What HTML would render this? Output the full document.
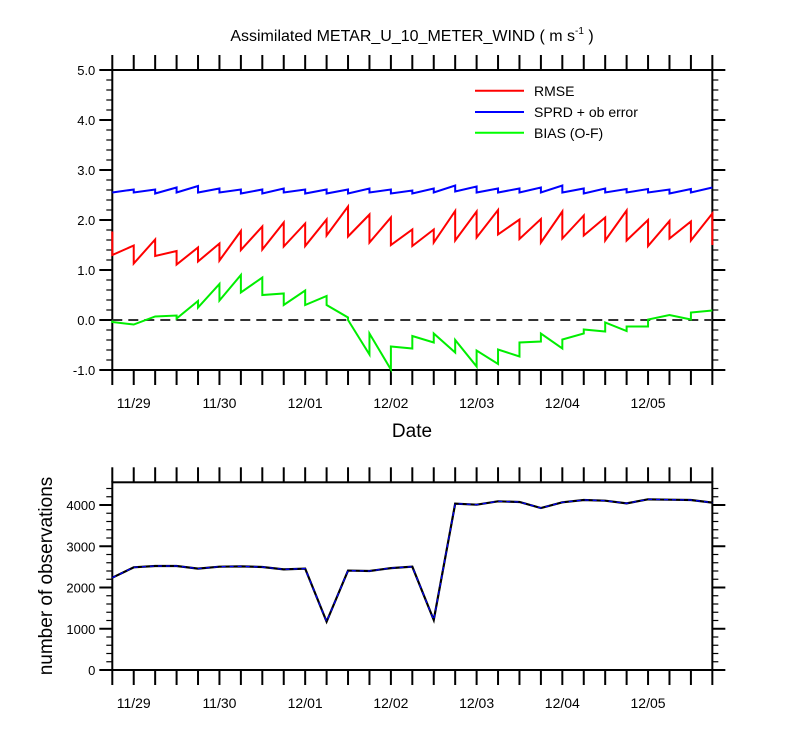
<!DOCTYPE html>
<html><head><meta charset="utf-8"><style>
html,body{margin:0;padding:0;background:#fff;}
svg{display:block;font-family:"Liberation Sans",Arial,sans-serif;}
</style></head><body>
<svg id="chart" width="800" height="750" viewBox="0 0 800 750" xmlns="http://www.w3.org/2000/svg">
<text x="412" y="41" font-size="16" text-anchor="middle">Assimilated METAR_U_10_METER_WIND ( m s<tspan font-size="10" dy="-7">-1</tspan><tspan dy="7"> )</tspan></text>
<g id="topPanel"></g>
<g id="botPanel"></g>
<text x="412" y="437" font-size="19" text-anchor="middle">Date</text>
<text transform="translate(52,576) rotate(-90)" font-size="19" text-anchor="middle">number of observations</text>
<g>
<line x1="475" y1="90.7" x2="524" y2="90.7" stroke="#ff0000" stroke-width="2"/>
<text x="534" y="96" font-size="14">RMSE</text>
<line x1="475" y1="112" x2="524" y2="112" stroke="#0000ff" stroke-width="2"/>
<text x="534" y="117" font-size="14">SPRD + ob error</text>
<line x1="475" y1="132.7" x2="524" y2="132.7" stroke="#00ff00" stroke-width="2"/>
<text x="534" y="138" font-size="14">BIAS (O-F)</text>
</g>
</svg>
<script>
const dateLabels = ["11/29","11/30","12/01","12/02","12/03","12/04","12/05"];
const dateLabelIndex = [1,5,9,13,17,21,25];
const rmsePrior = [1.77,1.49,1.61,1.38,1.45,1.53,1.78,1.87,1.95,1.93,2.01,2.27,2.11,2.05,1.81,1.81,2.18,2.17,2.20,2.01,2.02,2.17,2.09,2.05,2.19,2.00,1.98,1.97,2.13];
const rmsePost  = [1.30,1.13,1.28,1.11,1.17,1.19,1.40,1.41,1.47,1.48,1.69,1.67,1.55,1.50,1.48,1.55,1.59,1.65,1.71,1.62,1.55,1.63,1.69,1.59,1.59,1.48,1.63,1.59,1.50];
const sprdPrior = [2.55,2.61,2.61,2.65,2.68,2.63,2.61,2.61,2.63,2.61,2.61,2.61,2.63,2.61,2.59,2.63,2.69,2.67,2.63,2.63,2.65,2.69,2.63,2.63,2.62,2.62,2.61,2.62,2.65];
const sprdPost  = [2.55,2.55,2.53,2.55,2.55,2.55,2.53,2.53,2.55,2.53,2.53,2.53,2.55,2.53,2.53,2.55,2.57,2.55,2.55,2.55,2.55,2.55,2.53,2.55,2.55,2.55,2.53,2.55,2.65];
const biasPrior = [-0.01,-0.09,0.07,0.09,0.38,0.72,0.90,0.85,0.53,0.59,0.48,0.05,-0.69,-0.99,-0.57,-0.45,-0.65,-0.93,-0.88,-0.73,-0.43,-0.57,-0.27,-0.23,-0.22,-0.13,0.10,0.01,0.19];
const biasPost  = [-0.04,-0.09,0.07,0.03,0.25,0.39,0.55,0.50,0.30,0.30,0.30,0.00,-0.27,-0.53,-0.32,-0.27,-0.40,-0.61,-0.59,-0.45,-0.27,-0.39,-0.19,-0.05,-0.13,0.01,0.10,0.15,0.19];
const obsCount  = [2238,2489,2521,2521,2457,2505,2513,2497,2440,2457,1172,2410,2400,2470,2505,1212,4032,4008,4089,4073,3927,4065,4121,4105,4040,4137,4129,4121,4057];
const topTicks = [5.0,4.0,3.0,2.0,1.0,0.0,-1.0];
const botTicks = [0,1000,2000,3000,4000];

const NS="http://www.w3.org/2000/svg";
const X0=112.3, DX=21.43, N=29;
const xs=i=>X0+i*DX;
const yTop=v=>320-v*50;
const yBot=v=>670-v*0.04125;
function mk(parent,tag,attrs){const e=document.createElementNS(NS,tag);for(const k in attrs)e.setAttribute(k,attrs[k]);parent.appendChild(e);return e;}
const topG=document.getElementById('topPanel'), botG=document.getElementById('botPanel');

function panel(g,yt,yb,ticks,fmt,minorStep,minorMin,minorMax,yf,pfx){
  const r=mk(g,'rect',{x:X0,y:yt,width:xs(N-1)-X0,height:yb-yt,fill:'none',stroke:'#000','stroke-width':2});
  
  
  for(let i=0;i<N;i++){
    const a=mk(g,'line',{x1:xs(i),x2:xs(i),y1:yt-15,y2:yt,stroke:'#000','stroke-width':2});
    
    
    const b=mk(g,'line',{x1:xs(i),x2:xs(i),y1:yb,y2:yb+15,stroke:'#000','stroke-width':2});
    
    
  }
  for(let k=0;k<dateLabels.length;k++){
    const t=mk(g,'text',{x:xs(dateLabelIndex[k]),y:yb+38,'font-size':14,'text-anchor':'middle'});
    t.textContent=dateLabels[k];
    
    
  }
  for(let v=minorMin;v<=minorMax+1e-6;v+=minorStep){
    const y=yf(v);
    for(const side of [[X0-6,X0],[xs(N-1),xs(N-1)+6]]){
      const m=mk(g,'line',{x1:side[0],x2:side[1],y1:y,y2:y,stroke:'#000','stroke-width':1.2});
      
      
    }
  }
  for(const v of ticks){
    const y=yf(v);
    for(const side of [[X0-13,X0],[xs(N-1),xs(N-1)+13]]){
      const m=mk(g,'line',{x1:side[0],x2:side[1],y1:y,y2:y,stroke:'#000','stroke-width':2});
      
      
    }
    const t=mk(g,'text',{x:X0-17,y:y+5,'font-size':13,'text-anchor':'end'});
    t.textContent=fmt(v);
    
    
  }
}
panel(topG,70,370,topTicks,v=>v.toFixed(1),0.2,-1,5,yTop,'top');
panel(botG,482.3,670,botTicks,v=>String(v),200,0,4400,yBot,'bottom');

const zl=mk(topG,'line',{x1:X0,x2:xs(N-1),y1:yTop(0),y2:yTop(0),stroke:'#333','stroke-width':2,'stroke-dasharray':'10,6'});



function saw(pr,po){let d='';for(let i=0;i<N;i++){d+=(i?'L':'M')+xs(i)+','+yTop(pr[i])+'L'+xs(i)+','+yTop(po[i]);}return d;}
const s1=mk(topG,'path',{d:saw(sprdPrior,sprdPost),fill:'none',stroke:'#0000ff','stroke-width':2});


const s2=mk(topG,'path',{d:saw(rmsePrior,rmsePost),fill:'none',stroke:'#ff0000','stroke-width':2});


const s3=mk(topG,'path',{d:saw(biasPrior,biasPost),fill:'none',stroke:'#00ee00','stroke-width':2});



let od='';for(let i=0;i<N;i++)od+=(i?'L':'M')+xs(i)+','+yBot(obsCount[i]);
const o1=mk(botG,'path',{d:od,fill:'none',stroke:'#000','stroke-width':2.2});


const o2=mk(botG,'path',{d:od,fill:'none',stroke:'#0000ff','stroke-width':1.2,'stroke-dasharray':'4,4'});


</script>
</body></html>
